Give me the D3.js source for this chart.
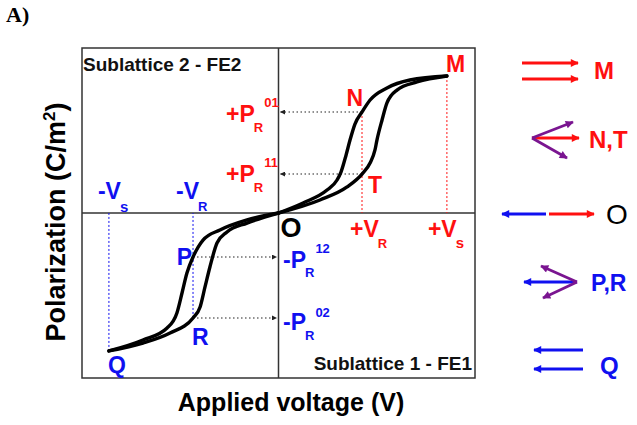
<!DOCTYPE html>
<html><head><meta charset="utf-8">
<script src="https://cdn.jsdelivr.net/npm/d3@7"></script>
<style>body{margin:0;background:#fff}svg{display:block}</style>
</head><body><svg id="c" width="637" height="425"></svg>
<script>
// ---- data (normalized units: V and P in [-1,1]) ----
const branchUpperHigh = [[0,0],[0.125,0.061],[0.247,0.139],[0.298,0.2],[0.318,0.248],[0.344,0.352],[0.364,0.442],[0.389,0.539],[0.425,0.612],[0.466,0.685],[0.552,0.758],[0.669,0.806],[0.857,0.830]];
const branchUpperLow  = [[0,0],[0.211,0.079],[0.349,0.158],[0.425,0.236],[0.466,0.303],[0.491,0.382],[0.501,0.442],[0.527,0.564],[0.552,0.667],[0.603,0.745],[0.705,0.794],[0.857,0.830]];
const branchLowerHigh = [[-0.863,-0.836],[-0.690,-0.770],[-0.567,-0.697],[-0.517,-0.606],[-0.491,-0.485],[-0.466,-0.364],[-0.435,-0.267],[-0.384,-0.164],[-0.298,-0.103],[-0.160,-0.042],[0,0]];
const branchLowerLow  = [[-0.863,-0.836],[-0.690,-0.788],[-0.552,-0.727],[-0.435,-0.636],[-0.399,-0.570],[-0.374,-0.448],[-0.349,-0.327],[-0.313,-0.182],[-0.262,-0.115],[-0.160,-0.061],[0,0]];
const Vs = 0.857, VR = 0.425, negVs = -0.863, negVR = -0.435;
const PR01 = 0.612, PR11 = 0.236, PR12 = -0.267, PR02 = -0.636;
const M = [Vs, 0.830], N = [VR, PR01], T = [VR, PR11], P = [negVR, PR12], R = [negVR, PR02], Q = [negVs, -0.836], O = [0, 0];
const legendRows = ["M", "N,T", "O", "P,R", "Q"];

const RED = "#ff1010", BLUE = "#1010f0", PURPLE = "#7a1590";
const svg = d3.select("#c");
const x = d3.scaleLinear().domain([-1, 1]).range([82, 475]);
const y = d3.scaleLinear().domain([-1, 1]).range([378, 48]);

// markers
const defs = svg.append("defs");
function marker(id, color, w, h) {
  defs.append("marker").attr("id", id).attr("viewBox", "0 0 10 10").attr("refX", 9).attr("refY", 5)
    .attr("markerWidth", w).attr("markerHeight", h).attr("markerUnits", "userSpaceOnUse").attr("orient", "auto")
    .append("path").attr("d", "M0,0 L10,5 L0,10 z").attr("fill", color);
}
marker("aR", RED, 12, 8); marker("aB", BLUE, 12, 8); marker("aP", PURPLE, 12, 8); marker("aK", "#222", 6, 5);

// "A)"
svg.append("text").attr("x", 6).attr("y", 22).attr("font-family", "Liberation Serif").attr("font-weight", "bold")
  .attr("font-size", 22).text("A)");

// frame and axes
svg.append("rect").attr("x", x(-1)).attr("y", y(1)).attr("width", x(1) - x(-1)).attr("height", y(-1) - y(1))
  .attr("fill", "none").attr("stroke", "#333").attr("stroke-width", 1.5);
svg.append("line").attr("x1", x(0)).attr("x2", x(0)).attr("y1", y(1)).attr("y2", y(-1)).attr("stroke", "#333").attr("stroke-width", 1.5);
svg.append("line").attr("x1", x(-1)).attr("x2", x(1)).attr("y1", y(0)).attr("y2", y(0)).attr("stroke", "#333").attr("stroke-width", 1.5);

// guide lines
function vguide(pt, color) {
  svg.append("line").attr("x1", x(pt[0])).attr("x2", x(pt[0])).attr("y1", y(pt[1])).attr("y2", y(0))
    .attr("stroke", color).attr("stroke-width", 1).attr("stroke-dasharray", "2,2");
}
vguide(N, RED); vguide(M, RED); vguide(R, BLUE); vguide(Q, BLUE);
function hguide(pt) {
  const dir = pt[0] > 0 ? 1 : -1;
  svg.append("line").attr("x1", x(pt[0])).attr("x2", x(0) + dir * 2).attr("y1", y(pt[1])).attr("y2", y(pt[1]))
    .attr("stroke", "#222").attr("stroke-width", 1.1).attr("stroke-dasharray", "1.5,2.5").attr("marker-end", "url(#aK)");
}
[N, T, P, R].forEach(hguide);

// curves
const line = d3.line().x(d => x(d[0])).y(d => y(d[1])).curve(d3.curveMonotoneX);
[branchUpperHigh, branchUpperLow, branchLowerHigh, branchLowerLow].forEach(b => {
  svg.append("path").attr("d", line(b)).attr("fill", "none").attr("stroke", "#000").attr("stroke-width", 3.4)
    .attr("stroke-linecap", "round");
});

// labels
const F = "Liberation Sans";
function txt(px, py, s, color, size, weight, anchor) {
  return svg.append("text").attr("x", px).attr("y", py).attr("fill", color).attr("font-family", F)
    .attr("font-size", size).attr("font-weight", weight || "bold").attr("text-anchor", anchor || "start").text(s);
}
function sublabel(px, py, main, sub, subDy, subSize, sup, supDy, color) {
  const t = svg.append("text").attr("x", px).attr("y", py).attr("fill", color).attr("font-family", F)
    .attr("font-size", 23).attr("font-weight", "bold");
  t.append("tspan").text(main);
  t.append("tspan").attr("dx", -1).attr("dy", subDy).attr("font-size", subSize).text(sub);
  if (sup) t.append("tspan").attr("dx", 1).attr("dy", supDy).attr("font-size", 13).text(sup);
}
txt(x(-1) + 1, 71, "Sublattice 2 - FE2", "#111", 19, "bold");
txt(x(1) - 3, 370, "Sublattice 1 - FE1", "#111", 19, "bold", "end");

sublabel(226, y(PR01) + 10, "+P", "R", 10, 13, "01", -25, RED);
sublabel(226, y(PR11) + 8, "+P", "R", 10, 13, "11", -25, RED);
sublabel(283, y(PR12) + 11, "-P", "R", 9, 13, "12", -24, BLUE);
sublabel(283, y(PR02) + 12, "-P", "R", 10, 13, "02", -23, BLUE);
sublabel(x(negVs) - 11, y(0) - 14, "-V", "s", 13, 15, null, 0, BLUE);
sublabel(x(negVR) - 17, y(0) - 14, "-V", "R", 12, 13, null, 0, BLUE);
sublabel(x(VR) - 12, y(0) + 24, "+V", "R", 11, 13, null, 0, RED);
sublabel(x(Vs) - 19, y(0) + 24, "+V", "s", 11, 15, null, 0, RED);

txt(x(M[0]) - 1, y(M[1]) - 4, "M", RED, 23);
txt(x(N[0]) + 1, y(N[1]) - 6, "N", RED, 23, "bold", "end");
txt(x(T[0]) + 6, y(T[1]) + 19, "T", RED, 23);
txt(x(O[0]) + 2, y(O[1]) + 24, "O", "#000", 27);
txt(x(P[0]) - 1, y(P[1]) + 8, "P", BLUE, 23, "bold", "end");
txt(x(R[0]) - 1, y(R[1]) + 27, "R", BLUE, 23);
txt(x(Q[0]) - 1, y(Q[1]) + 22, "Q", BLUE, 23);

// axis titles
txt(291, 411, "Applied voltage (V)", "#000", 25, "bold", "middle");
const yl = svg.append("text").attr("transform", "translate(65,222) rotate(-90)").attr("text-anchor", "middle")
  .attr("font-family", F).attr("font-size", 27).attr("font-weight", "bold").attr("fill", "#000");
yl.append("tspan").text("Polarization (C/m");
yl.append("tspan").attr("dy", -10).attr("font-size", 17).text("2");
yl.append("tspan").attr("dy", 10).text(")");

// legend (schematic dipole arrows)
const ly = d3.scaleOrdinal().domain(legendRows).range([71, 138, 214, 282, 360]);
function arrow(x1, y1, x2, y2, color, m) {
  svg.append("line").attr("x1", x1).attr("y1", y1).attr("x2", x2).attr("y2", y2).attr("stroke", color)
    .attr("stroke-width", 2.8).attr("marker-end", `url(#${m})`);
}
let r = ly("M");
arrow(522, r - 8, 578, r - 8, RED, "aR"); arrow(522, r + 8, 578, r + 8, RED, "aR");
txt(594, r + 8, "M", RED, 24);
r = ly("N,T");
arrow(532, r, 579, r, RED, "aR"); arrow(532, r, 573, r - 16, PURPLE, "aP"); arrow(532, r, 567, r + 20, PURPLE, "aP");
txt(589, r + 10, "N,T", RED, 24);
r = ly("O");
arrow(546, r, 502, r, BLUE, "aB"); arrow(549, r, 594, r, RED, "aR");
txt(606, r + 10, "O", "#000", 28, "normal");
r = ly("P,R");
arrow(577, r, 524, r, BLUE, "aB"); arrow(577, r, 541, r - 16, PURPLE, "aP"); arrow(577, r, 543, r + 16, PURPLE, "aP");
txt(591, r + 9, "P,R", BLUE, 23);
r = ly("Q");
arrow(583, r - 10, 534, r - 10, BLUE, "aB"); arrow(583, r + 9, 534, r + 9, BLUE, "aB");
txt(600, r + 14, "Q", BLUE, 24);
</script></body></html>
